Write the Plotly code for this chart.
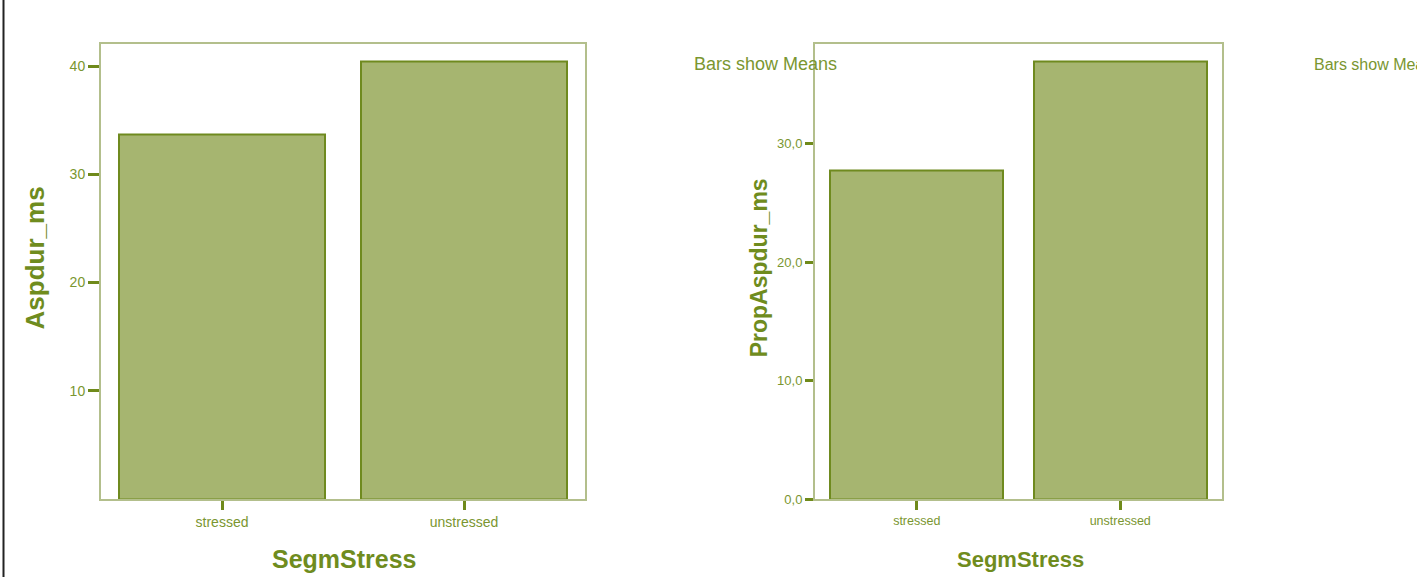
import plotly.graph_objects as go

# Mean values by segment stress
categories = ["stressed", "unstressed"]
aspdur_ms = [33.7, 40.45]
prop_aspdur_ms = [27.8, 37.0]

left_ticks = [10, 20, 30, 40]
right_ticks = [0, 10, 20, 30]
right_ticktext = ["0,0", "10,0", "20,0", "30,0"]

W, H = 1417, 585
TXT = "#7a9630"
TITLE = "#6f8c1e"
TICK = "#6f8a1a"
FRAME = "#b3bf8c"
BAR_FILL = "#a6b570"
BAR_LINE = "#6f8a1f"
FONT = "Liberation Sans, Arial, sans-serif"


def px(x):
    return x / W


def py(y):
    return (H - y) / H


fig = go.Figure()

fig.add_trace(go.Bar(
    x=categories, y=aspdur_ms, width=0.85,
    marker=dict(color=BAR_FILL, line=dict(color=BAR_LINE, width=2)),
    xaxis="x", yaxis="y", showlegend=False,
))
fig.add_trace(go.Bar(
    x=categories, y=prop_aspdur_ms, width=0.85,
    marker=dict(color=BAR_FILL, line=dict(color=BAR_LINE, width=2)),
    xaxis="x2", yaxis="y2", showlegend=False,
))

ydom = [py(506), py(45)]
common_x = dict(
    type="category", range=[-0.5, 1.5], showgrid=False, zeroline=False,
    showline=True, linecolor=FRAME, linewidth=2, mirror=True,
    ticks="outside", ticklen=9, tickwidth=3, tickcolor=TICK,
)
common_y = dict(
    showgrid=False, zeroline=False,
    showline=True, linecolor=FRAME, linewidth=2, mirror=True,
    ticks="outside", tickwidth=3, tickcolor=TICK,
)

fig.update_layout(
    width=W, height=H,
    margin=dict(l=0, r=0, t=0, b=0),
    paper_bgcolor="white", plot_bgcolor="white",
    bargap=0,
    xaxis=dict(common_x, domain=[px(101), px(585)], anchor="y",
               tickfont=dict(family=FONT, size=14, color=TXT)),
    yaxis=dict(common_y, domain=ydom, anchor="x", range=[0, 42],
               tickvals=left_ticks, ticklen=11,
               tickfont=dict(family=FONT, size=14, color=TXT)),
    xaxis2=dict(common_x, domain=[px(815), px(1222)], anchor="y2",
                tickfont=dict(family=FONT, size=12.5, color=TXT)),
    yaxis2=dict(common_y, domain=ydom, anchor="x2", range=[0, 38.4],
                tickvals=right_ticks, ticktext=right_ticktext, ticklen=8,
                tickfont=dict(family=FONT, size=13, color=TXT)),
    annotations=[
        # axis titles
        dict(text="<b>SegmStress</b>", x=px(344), y=py(567), xref="paper", yref="paper",
             xanchor="center", yanchor="middle", showarrow=False,
             font=dict(family=FONT, size=25, color=TITLE)),
        dict(text="<b>SegmStress</b>", x=px(1020), y=py(567), xref="paper", yref="paper",
             xanchor="center", yanchor="middle", showarrow=False,
             font=dict(family=FONT, size=22, color=TITLE)),
        dict(text="<b>Aspdur_ms</b>", x=px(35), y=py(262), xref="paper", yref="paper",
             xanchor="center", yanchor="middle", showarrow=False, textangle=-90,
             font=dict(family=FONT, size=26, color=TITLE)),
        dict(text="<b>PropAspdur_ms</b>", x=px(759), y=py(272), xref="paper", yref="paper",
             xanchor="center", yanchor="middle", showarrow=False, textangle=-90,
             font=dict(family=FONT, size=23, color=TITLE)),
        # chart notes
        dict(text="Bars show Means", x=px(692), y=py(65), xref="paper", yref="paper",
             xanchor="left", yanchor="middle", showarrow=False,
             font=dict(family=FONT, size=18, color=TXT)),
        dict(text="Bars show Means", x=px(1312), y=py(65), xref="paper", yref="paper",
             xanchor="left", yanchor="middle", showarrow=False,
             font=dict(family=FONT, size=16, color=TXT)),
    ],
    shapes=[
        dict(type="line", xref="paper", yref="paper", x0=px(3.5), x1=px(3.5), y0=0, y1=1,
             line=dict(color="#222222", width=2)),
    ],
)

fig.write_html("out.html")
